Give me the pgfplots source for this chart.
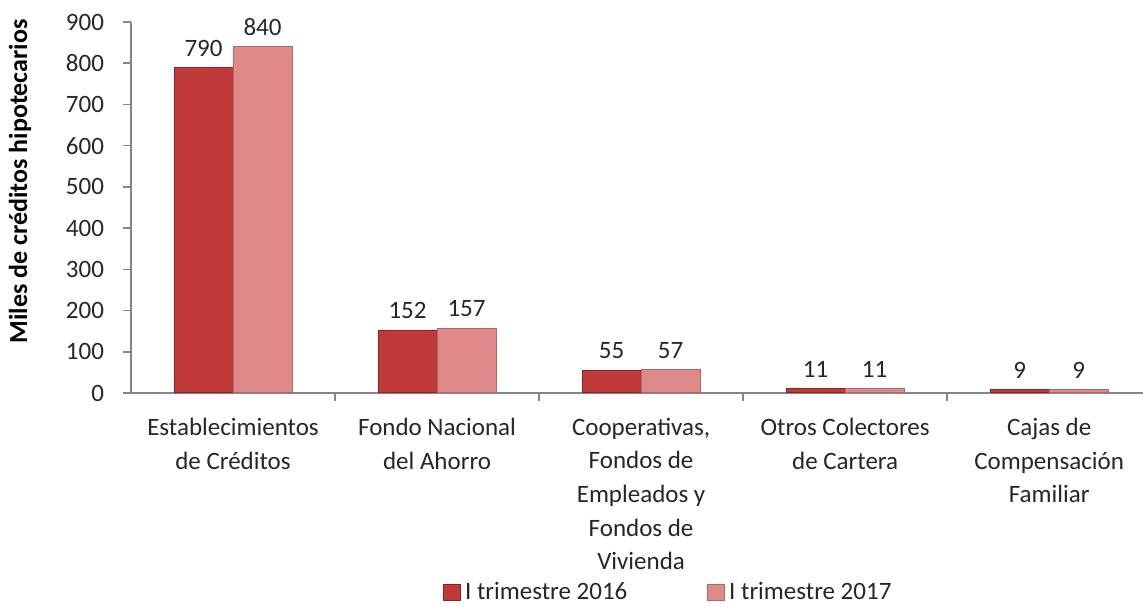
\documentclass[border=0pt]{standalone}
\usepackage{fontspec}
\setmainfont{Carlito}
\usepackage{pgfplots}
\pgfplotsset{compat=1.18}
\definecolor{c16}{RGB}{192,57,57}
\definecolor{c16d}{RGB}{140,35,35}
\definecolor{c17}{RGB}{222,138,138}
\definecolor{c17d}{RGB}{175,105,105}
\definecolor{axgray}{RGB}{134,134,134}
\definecolor{txt}{RGB}{38,38,38}
\newcommand{\lf}{\fontsize{12.5}{16.8}\selectfont}
\begin{document}
\begin{tikzpicture}
\begin{axis}[
  name=ax,
  scale only axis,
  width=506pt, height=185.5pt,
  xmin=-0.5, xmax=4.46,
  ymin=0, ymax=900,
  ybar=0pt, bar width=29.5pt,
  ytick={0,100,...,900},
  xtick={0,1,2,3,4},
  xticklabels={{Establecimientos\\de Créditos},{Fondo Nacional\\del Ahorro},{Cooperativas,\\Fondos de\\Empleados y\\Fondos de\\Vivienda},{Otros Colectores\\de Cartera},{Cajas de\\Compensación\\Familiar}},
  minor xtick={0.5,1.5,2.5,3.5},
  axis lines*=left,
  axis line style={axgray, line width=0.8pt},
  major x tick style={draw=none},
  minor x tick style={axgray, line width=0.8pt},
  y tick style={axgray, line width=0.8pt},
  tick align=outside,
  major tick length=4pt, minor tick length=4pt,
  ticklabel style={font=\lf, text=txt},
  yticklabel style={xshift=-6pt},
  xticklabel style={align=center, anchor=north, yshift=-5pt},
  /pgf/number format/assume math mode=true,
  nodes near coords,
  nodes near coords style={font=\lf, text=txt, yshift=2pt},
  legend style={at={(0.532,-0.538)}, anchor=center, draw=none, fill=none, font=\lf, text=txt, legend columns=2,
    /tikz/every even column/.append style={column sep=38pt}},
  legend cell align=left,
]
\addplot[fill=c16, draw=c16d, line width=0.5pt,
  legend image code/.code={\draw[fill=c16, draw=c16d] (0pt,-4.2pt) rectangle (8.4pt,4.2pt);}]
  coordinates {(0,790) (1,152) (2,55) (3,11) (4,9)};
\addlegendentry{I trimestre 2016}
\addplot[fill=c17, draw=c17d, line width=0.5pt,
  legend image code/.code={\draw[fill=c17, draw=c17d] (0pt,-4.2pt) rectangle (8.4pt,4.2pt);}]
  coordinates {(0,840) (1,157) (2,57) (3,11) (4,9)};
\addlegendentry{I trimestre 2017}
\end{axis}
\node[rotate=90, font=\fontsize{13}{15}\selectfont\bfseries, text=black] at ([xshift=-55.5pt, yshift=13pt]ax.west) {Miles de créditos hipotecarios};
\pgfresetboundingbox
\path[use as bounding box] ([xshift=-65.5pt, yshift=-107pt]ax.south west) rectangle ([yshift=11pt]ax.north east);
\end{tikzpicture}
\end{document}
